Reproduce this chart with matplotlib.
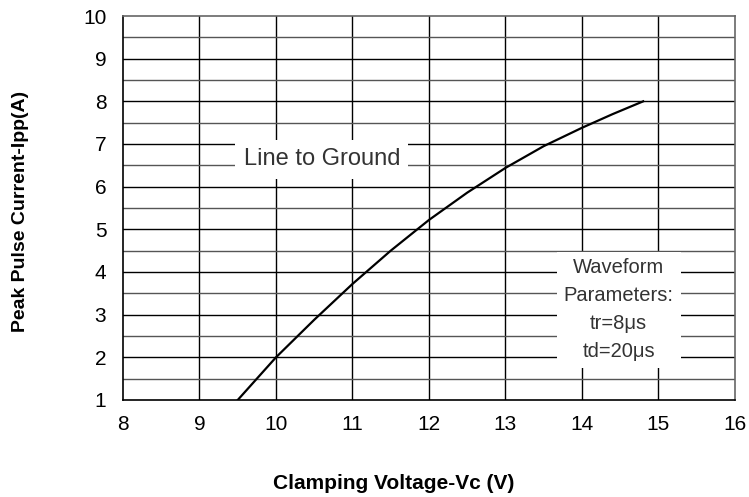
import numpy as np
import matplotlib.pyplot as plt

# curve
vc = [9.5, 10.0, 10.5, 11.0, 11.5, 12.0, 12.5, 13.0, 13.5, 14.0, 14.4, 14.8]
ipp = [1.0, 2.0, 2.88, 3.72, 4.5, 5.22, 5.86, 6.44, 6.95, 7.38, 7.7, 8.0]

x_ticks = [8, 9, 10, 11, 12, 13, 14, 15, 16]
y_ticks = [1, 2, 3, 4, 5, 6, 7, 8, 9, 10]

plt.rcParams['font.family'] = ['Liberation Sans', 'DejaVu Sans']

fig = plt.figure(figsize=(7.49, 4.97), dpi=100)
ax = fig.add_axes([0.1642, 0.1952, 0.8171, 0.7726])

# grid: verticals every 1 V, horizontals every 0.5 A
for xv in x_ticks[1:-1]:
    ax.axvline(xv, color='black', lw=1.0, zorder=1)
for yv in np.arange(1.5, 10, 0.5):
    c = 'black' if yv % 1 == 0 else '#555555'
    ax.axhline(yv, color=c, lw=1.0, zorder=1)

ax.plot(vc, ipp, color='black', lw=1.6, zorder=3)

ax.set_xlim(8, 16)
ax.set_ylim(1, 10)
ax.set_xticks(x_ticks)
ax.set_yticks(y_ticks)
ax.tick_params(length=0, labelsize=15)
ax.tick_params(axis='y', pad=12)
ax.tick_params(axis='x', pad=11)

for s in ['left', 'bottom']:
    ax.spines[s].set_color('black')
    ax.spines[s].set_linewidth(1.2)
for s in ['top', 'right']:
    ax.spines[s].set_color('#666666')
    ax.spines[s].set_linewidth(1.2)

ax.set_xlabel('Clamping Voltage-Vc (V)', fontsize=15, fontweight='bold')
ax.xaxis.set_label_coords(0.443, -0.193)
ax.set_ylabel('Peak Pulse Current-Ipp(A)', fontsize=14, fontweight='bold')
ax.yaxis.set_label_coords(-0.153, 0.49)

ax.text(10.6, 6.64, 'Line to Ground', fontsize=17, color='#333333',
        ha='center', va='center', zorder=4,
        bbox=dict(facecolor='white', edgecolor='none', pad=6))
ax.text(14.48, 3.11, 'Waveform\nParameters:\ntr=8\u03bcs\ntd=20\u03bcs',
        fontsize=14.5, color='#333333', ha='center', va='center',
        linespacing=1.6, zorder=4,
        bbox=dict(facecolor='white', edgecolor='none', pad=5))

fig.savefig('out.png', dpi=100)
